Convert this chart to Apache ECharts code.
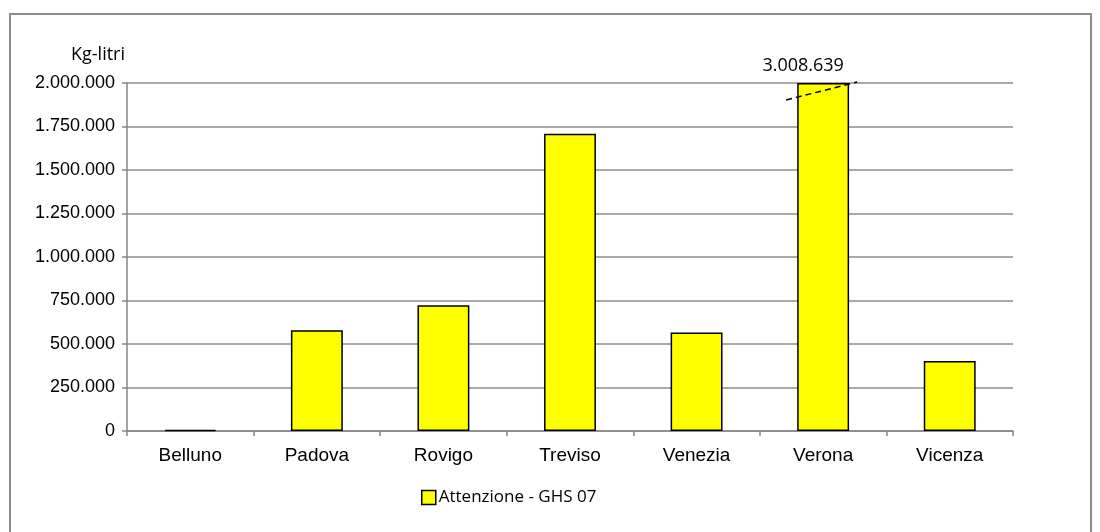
<!DOCTYPE html>
<html>
<head>
<meta charset="utf-8">
<script src="https://cdn.jsdelivr.net/npm/echarts@6/dist/echarts.min.js"></script>
<style>
html, body { margin: 0; padding: 0; background: #fff; }
#frame { position: absolute; left: 9px; top: 13px; width: 1083px; height: 540px; border: 2px solid #8c8c8c; box-sizing: border-box; }
#chart { position: absolute; left: 0; top: 0; width: 1100px; height: 532px; }
</style>
</head>
<body>
<div id="frame"></div>
<div id="chart"></div>
<script>
var province = ['Belluno', 'Padova', 'Rovigo', 'Treviso', 'Venezia', 'Verona', 'Vicenza'];
var valori = [7000, 579000, 722000, 1708000, 566000, 3008639, 402000];
var serieNome = 'Attenzione - GHS 07';
var assMax = 2000000;

function puntini(v){
	return String(v).replace(/\B(?=(\d{3})+(?!\d))/g, '.');
}

var chart = echarts.init(document.getElementById('chart'));
// i valori oltre il massimo vengono tagliati, l'etichetta mostra quello vero
var dati = valori.map(function(v){
	if (v > assMax) {
		return {value: assMax, vero: v, label: {show: true}};
	}
	return {value: v, vero: v};
});

var option = {
	animation: false,
	grid: {left: 127, right: 87, top: 83, bottom: 101},
	legend: {
		data: [serieNome],
		left: 421, top: 489,
		padding: 0,
		itemWidth: 14, itemHeight: 14, itemGap: 3,
		icon: 'rect',
		itemStyle: {borderColor: '#000', borderWidth: 1.5},
		textStyle: {fontFamily: 'Open Sans', fontSize: 17, color: '#000', padding: [0, 0, 0, -2]}
	},
	xAxis: {
		type: 'category',
		data: province,
		axisLine: {lineStyle: {color: '#868686', width: 1.5}},
		axisTick: {show: true, length: 5, lineStyle: {color: '#868686', width: 1.5}},
		axisLabel: {fontFamily: 'Liberation Sans', fontSize: 19, color: '#000', margin: 15}
	},
	yAxis: {
		type: 'value',
		min: 0, max: assMax, interval: 250000,
		name: 'Kg-litri',
		nameLocation: 'end',
		nameGap: 19,
		nameTextStyle: {fontFamily: 'Open Sans', fontSize: 18, color: '#000', align: 'center', padding: [0, 0, 0, -58]},
		axisLine: {show: true, lineStyle: {color: '#868686', width: 1.5}},
		axisTick: {show: true, length: 5, lineStyle: {color: '#868686', width: 1.5}},
		splitLine: {lineStyle: {color: '#8c8c8c', width: 1.5}},
		axisLabel: {fontFamily: 'Liberation Sans', fontSize: 18, color: '#000', margin: 12, formatter: puntini}
	},
	series: [{
		name: serieNome,
		type: 'bar',
		data: dati,
		barWidth: '41%',
		itemStyle: {color: '#ffff00', borderColor: '#000', borderWidth: 1.5},
		label: {
			show: false,
			position: 'top',
			distance: 8,
			offset: [-20, 0],
			fontFamily: 'Open Sans', fontSize: 18, color: '#000',
			formatter: function(p){ return puntini(p.data.vero); }
		}
	}]
};
chart.setOption(option);

// linea tratteggiata di interruzione sulla barra tagliata
var grafici = [];
valori.forEach(function(v, i){
	if (v > assMax) {
		var c = chart.convertToPixel({seriesIndex: 0}, [i, assMax]);
		var cx = c[0], cy = c[1] + 8;
		grafici.push({
			type: 'line',
			shape: {x1: cx - 37, y1: cy + 9, x2: cx + 34, y2: cy - 9},
			style: {stroke: '#000', lineWidth: 1.5, lineDash: [6, 4]},
			z: 100
		});
	}
});
chart.setOption({graphic: grafici});
</script>
</body>
</html>
